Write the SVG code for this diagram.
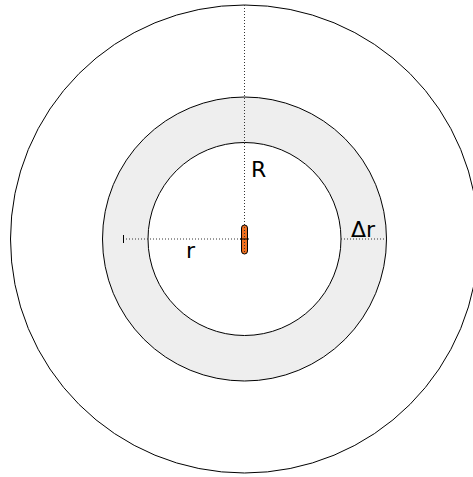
<svg xmlns="http://www.w3.org/2000/svg" width="473" height="477" viewBox="0 0 473 477">
<style>
.c{fill:none;stroke:#000;stroke-width:1}
.d{stroke:#333;stroke-width:1;stroke-dasharray:1,2;fill:none}
.t{font-family:"DejaVu Sans",sans-serif;font-size:22px;fill:#000}
</style>
<rect width="473" height="477" fill="#fff"/>
<g id="outer"><circle class="c" cx="244.5" cy="239" r="234"/></g>
<g id="annulus"><circle cx="244.5" cy="239" r="142" fill="#eeeeee" stroke="#000"/></g>
<g id="inner"><circle cx="244.5" cy="239" r="96.5" fill="#fff" stroke="#000"/></g>
<g id="connectors">
<line class="d" x1="244.5" y1="5" x2="244.5" y2="239"/>
<line class="d" x1="123" y1="239" x2="244.5" y2="239"/>
<line class="d" x1="341" y1="239" x2="386.5" y2="239"/>
<line stroke="#000" x1="123.5" y1="235" x2="123.5" y2="243"/>
</g>
<g id="particle">
<rect x="241.5" y="225" width="6" height="29" rx="3" fill="#f07020" stroke="#000"/>
<line class="d" x1="244.5" y1="227" x2="244.5" y2="252"/>
<line stroke="#000" x1="240" y1="239" x2="249" y2="239"/>
</g>
<g id="labels">
<text class="t" x="251" y="177">R</text>
<text class="t" x="186" y="258">r</text>
<text class="t" x="351" y="237">Δr</text>
</g>
</svg>
